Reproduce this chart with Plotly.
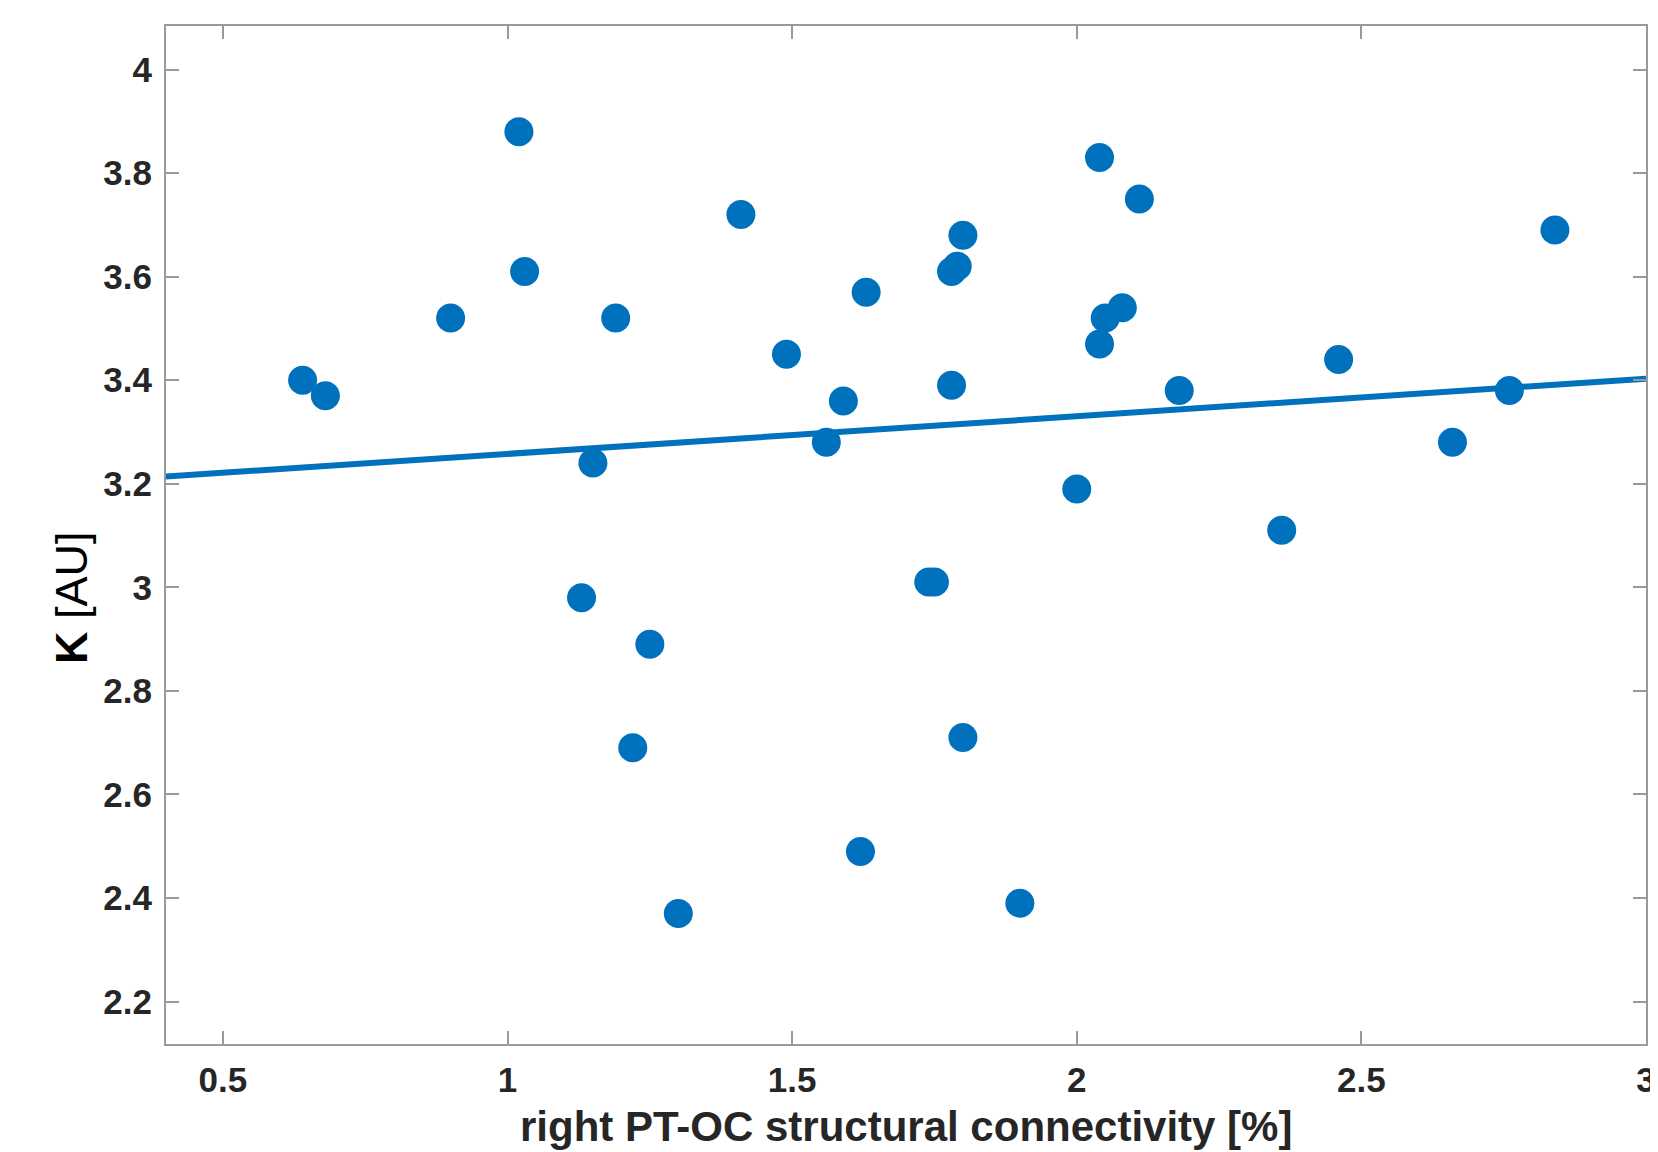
import plotly.graph_objects as go

# Data
connectivity = [0.64, 0.68, 0.90, 1.02, 1.03, 1.19, 1.15, 1.13, 1.25, 1.22,
                1.30, 1.41, 1.49, 1.59, 1.56, 1.63, 1.62, 1.74, 1.75, 1.80,
                1.79, 1.78, 1.78, 1.80, 1.90, 2.00, 2.04, 2.11, 2.05, 2.08,
                2.04, 2.18, 2.36, 2.46, 2.66, 2.76, 2.84]
k_values = [3.40, 3.37, 3.52, 3.88, 3.61, 3.52, 3.24, 2.98, 2.89, 2.69,
            2.37, 3.72, 3.45, 3.36, 3.28, 3.57, 2.49, 3.01, 3.01, 3.68,
            3.62, 3.61, 3.39, 2.71, 2.39, 3.19, 3.83, 3.75, 3.52, 3.54,
            3.47, 3.38, 3.11, 3.44, 3.28, 3.38, 3.69]

fit_x = [0.4, 3.0]
fit_y = [3.214, 3.403]

x_ticks = [0.5, 1, 1.5, 2, 2.5, 3]
x_ticklabels = ["0.5", "1", "1.5", "2", "2.5", "3"]
y_ticks = [2.2, 2.4, 2.6, 2.8, 3.0, 3.2, 3.4, 3.6, 3.8, 4.0]
y_ticklabels = ["2.2", "2.4", "2.6", "2.8", "3", "3.2", "3.4", "3.6", "3.8", "4"]

x_title = "<b>right PT-OC structural connectivity [%]</b>"
y_title = "<b>K</b> [AU]"

BLUE = "#0072BD"
TXT = "#262626"
AXC = "#9a9a9a"
FONT = "Liberation Sans"

fig = go.Figure()
fig.add_trace(go.Scatter(
    x=connectivity, y=k_values, mode="markers",
    marker=dict(size=29, color=BLUE, line=dict(width=0)),
    showlegend=False,
))
fig.add_trace(go.Scatter(
    x=fit_x, y=fit_y, mode="lines",
    line=dict(color=BLUE, width=6),
    showlegend=False,
))

axis_common = dict(
    showline=True, linecolor=AXC, linewidth=2, mirror="ticks",
    ticks="inside", ticklen=13, tickwidth=2, tickcolor=AXC,
    showgrid=False, zeroline=False, automargin=False,
    tickfont=dict(family=FONT, size=35, color=TXT, weight="bold"),
)

# page body adds an 8px offset; figure sized to fill the remaining window
fig.update_layout(
    width=1650, height=1144,
    margin=dict(l=158, r=12, t=18, b=108),
    paper_bgcolor="white", plot_bgcolor="white",
    xaxis=dict(
        range=[0.4, 3.0], tickvals=x_ticks, ticktext=x_ticklabels,
        ticklabelstandoff=4,
        **axis_common,
    ),
    yaxis=dict(
        range=[2.118, 4.084], tickvals=y_ticks, ticktext=y_ticklabels,
        ticklabelstandoff=5,
        **axis_common,
    ),
    annotations=[
        dict(
            text=y_title, textangle=-90, showarrow=False,
            xref="paper", yref="paper", x=-0.0642, y=0.439,
            xanchor="center", yanchor="middle",
            font=dict(family=FONT, size=45, color="black"),
        ),
        dict(
            text=x_title, showarrow=False,
            xref="paper", yref="paper", x=0.5, y=-0.0815,
            xanchor="center", yanchor="middle",
            font=dict(family=FONT, size=42, color=TXT),
        ),
    ],
)

fig.write_html("out.html")
